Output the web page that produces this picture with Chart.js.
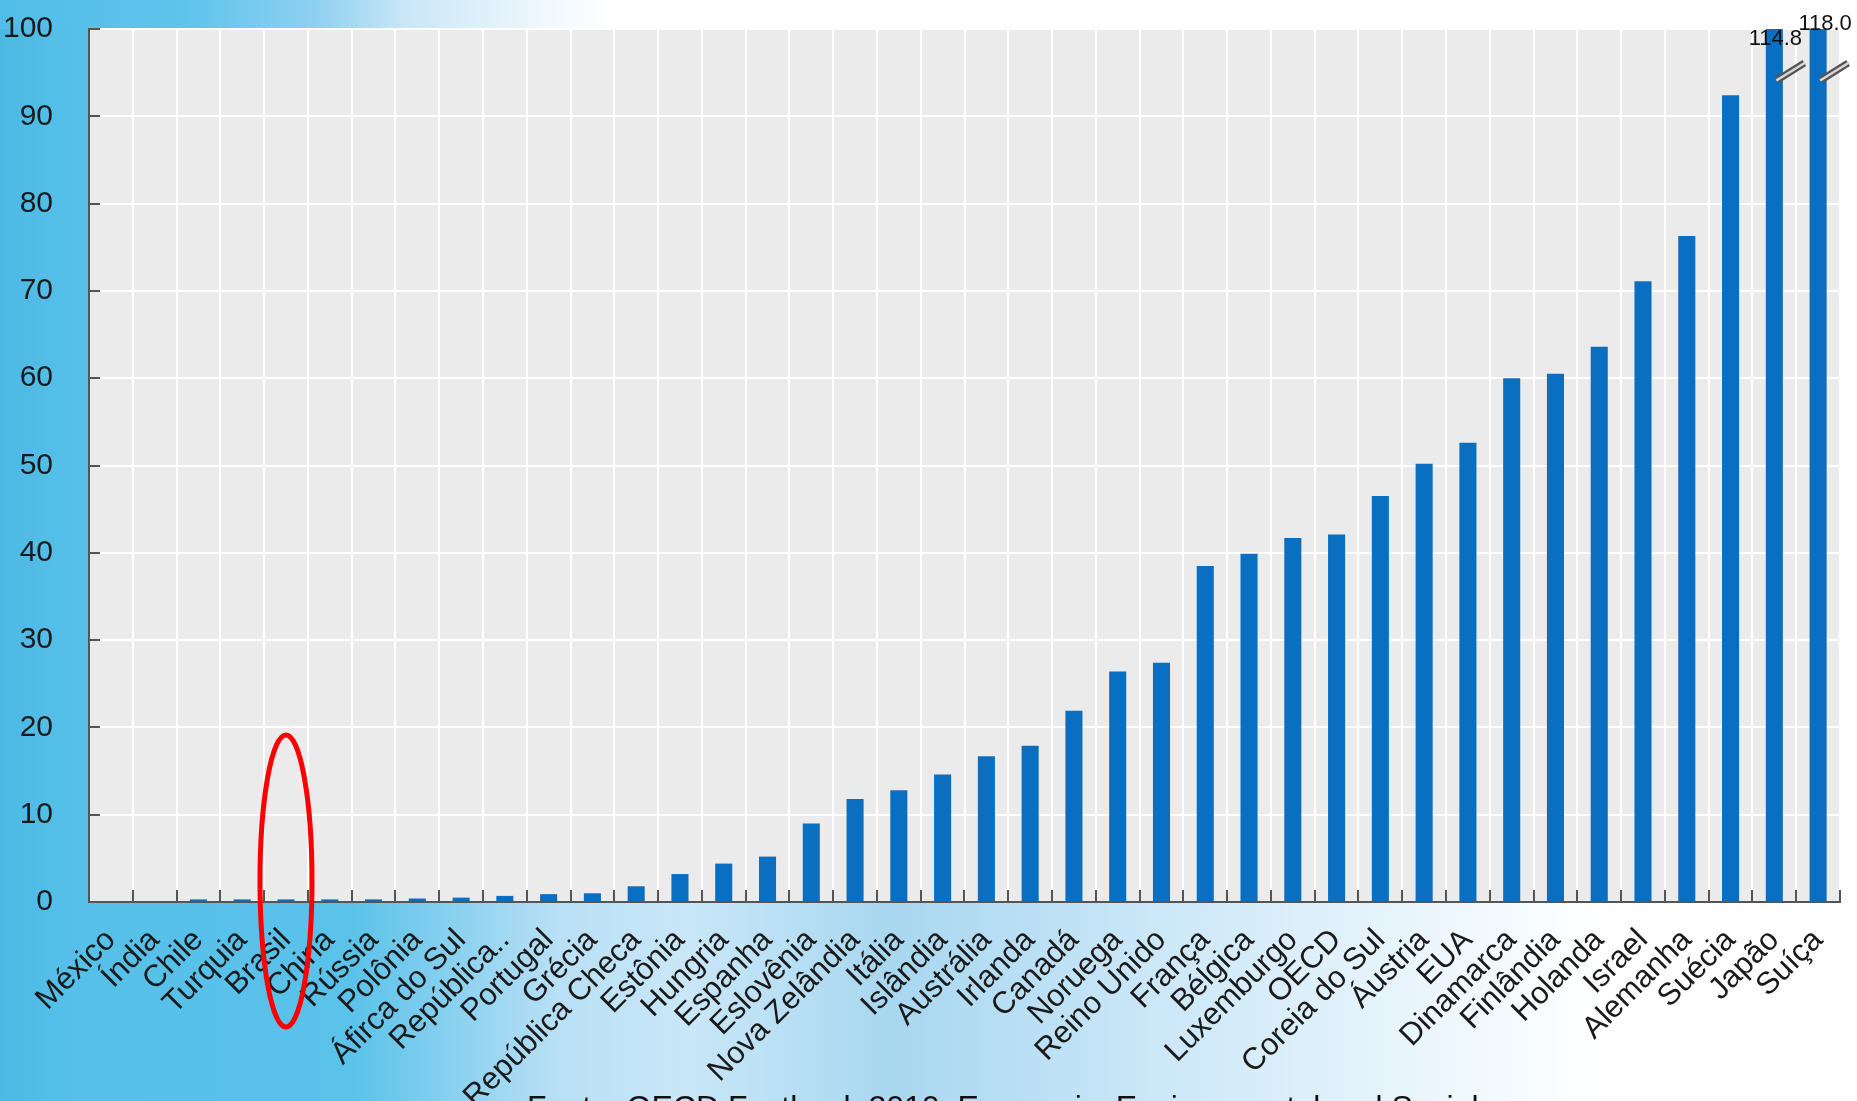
<!DOCTYPE html>
<html><head><meta charset="utf-8">
<script src="https://cdn.jsdelivr.net/npm/chart.js@4.4.1/dist/chart.umd.min.js"></script>
<style>html,body{margin:0;padding:0;background:#fff;overflow:hidden}canvas{display:block}</style>
</head><body>
<canvas id="c" width="1857" height="1101" style="width:1857px;height:1101px"></canvas>
<script>
const categories = ['México','Índia','Chile','Turquia','Brasil','China','Rússia','Polônia','Áfirca do Sul','República..','Portugal','Grécia','República Checa','Estônia','Hungria','Espanha','Eslovênia','Nova Zelândia','Itália','Islândia','Austrália','Irlanda','Canadá','Noruega','Reino Unido','França','Bélgica','Luxemburgo','OECD','Coreia do Sul','Áustria','EUA','Dinamarca','Finlândia','Holanda','Israel','Alemanha','Suécia','Japão','Suíça'];
const values = [0,0,0.3,0.3,0.3,0.3,0.3,0.4,0.5,0.7,0.9,1.0,1.8,3.2,4.4,5.2,9.0,11.8,12.8,14.6,16.7,17.9,21.9,26.4,27.4,38.5,39.9,41.7,42.1,46.5,50.2,52.6,60.0,60.5,63.6,71.1,76.3,92.4,114.8,118.0];
const yTicks = [0,10,20,30,40,50,60,70,80,90,100];
const highlighted = 'Brasil';
const footer = 'Fonte: OECD Factbook 2010: Economic, Environmental and Social';

const SANS = "'Liberation Sans',Arial,sans-serif";

const bgPlugin = {
  id: 'bg',
  beforeDraw(chart) {
    const {ctx, width, height, chartArea: a} = chart;
    ctx.save();
    const g = ctx.createLinearGradient(0, 0, width, 0);
    g.addColorStop(0, '#4cb9e4');
    g.addColorStop(0.04, '#56c0e9');
    g.addColorStop(0.19, '#5bc2ea');
    g.addColorStop(0.30, '#b9e0f5');
    g.addColorStop(0.37, '#c9e7f8');
    g.addColorStop(0.48, '#a8d7f0');
    g.addColorStop(0.62, '#cbe7f8');
    g.addColorStop(0.76, '#e9f5fc');
    g.addColorStop(0.86, '#ffffff');
    g.addColorStop(1, '#ffffff');
    ctx.fillStyle = g;
    ctx.fillRect(0, 0, width, height);
    const g2 = ctx.createLinearGradient(0, 0, width, 0);
    g2.addColorStop(0, '#52bde8');
    g2.addColorStop(0.10, '#5ec4ec');
    g2.addColorStop(0.17, '#8fd0f0');
    g2.addColorStop(0.22, '#cbe7f7');
    g2.addColorStop(0.29, '#eef7fc');
    g2.addColorStop(0.33, '#ffffff');
    g2.addColorStop(1, '#ffffff');
    ctx.fillStyle = g2;
    ctx.fillRect(0, 0, width, a.top);
    ctx.fillStyle = '#ebebeb';
    ctx.fillRect(a.left, a.top, a.right - a.left, a.bottom - a.top);
    ctx.restore();
  }
};

const overPlugin = {
  id: 'over',
  afterDatasetsDraw(chart) {
    const {ctx, chartArea: a} = chart;
    const ys = chart.scales.y;
    const meta = chart.getDatasetMeta(0);
    const dxs = [1, 7], dys = [16, 1];
    let k = 0;
    ctx.save();
    values.forEach((v, i) => {
      if (v <= ys.max) return;
      const bar = meta.data[i];
      ctx.lineCap = 'butt';
      ctx.strokeStyle = '#555555';
      ctx.lineWidth = 7;
      ctx.beginPath();
      ctx.moveTo(bar.x + 3, a.top + 51);
      ctx.lineTo(bar.x + 30, a.top + 34);
      ctx.stroke();
      ctx.strokeStyle = '#d8d8d8';
      ctx.lineWidth = 2.5;
      ctx.beginPath();
      ctx.moveTo(bar.x + 2, a.top + 51.5);
      ctx.lineTo(bar.x + 31, a.top + 33.5);
      ctx.stroke();
      ctx.fillStyle = '#111';
      ctx.font = '22px ' + SANS;
      ctx.textAlign = 'center';
      ctx.textBaseline = 'alphabetic';
      ctx.fillText(v.toFixed(1), bar.x + dxs[k], a.top + dys[k]);
      k++;
    });
    ctx.restore();
  },
  afterDraw(chart) {
    const {ctx, chartArea: a} = chart;
    const xs = chart.scales.x, ys = chart.scales.y;
    ctx.save();
    ctx.strokeStyle = '#555';
    ctx.lineWidth = 2;
    yTicks.forEach(t => {
      const py = Math.round(ys.getPixelForValue(t));
      ctx.beginPath(); ctx.moveTo(a.left, py); ctx.lineTo(a.left + 11, py); ctx.stroke();
    });
    const half = (xs.getPixelForValue(1) - xs.getPixelForValue(0)) / 2;
    for (let i = 0; i <= categories.length; i++) {
      const px = Math.round(i < categories.length ? xs.getPixelForValue(i) - half : xs.getPixelForValue(i - 1) + half);
      ctx.beginPath(); ctx.moveTo(px, a.bottom); ctx.lineTo(px, a.bottom - 12); ctx.stroke();
    }
    const hx = xs.getPixelForValue(categories.indexOf(highlighted));
    ctx.strokeStyle = '#ff0000';
    ctx.lineWidth = 5;
    ctx.beginPath();
    ctx.ellipse(hx, 881, 26, 146, 0, 0, Math.PI * 2);
    ctx.stroke();
    ctx.fillStyle = '#111';
    ctx.font = '32px ' + SANS;
    ctx.textAlign = 'left';
    ctx.textBaseline = 'alphabetic';
    ctx.fillText(footer, 527, 1118);
    ctx.restore();
  }
};

new Chart(document.getElementById('c'), {
  type: 'bar',
  data: {
    labels: categories,
    datasets: [{
      data: values,
      backgroundColor: '#0b6fc1',
      borderWidth: 0,
      barPercentage: 0.39,
      categoryPercentage: 1.0
    }]
  },
  options: {
    responsive: false,
    devicePixelRatio: 1,
    animation: false,
    layout: {padding: {top: 29, right: 17, left: 0, bottom: 0}},
    plugins: {legend: {display: false}, tooltip: {enabled: false}},
    scales: {
      x: {
        grid: {offset: true, color: '#ffffff', lineWidth: 2, drawTicks: false},
        border: {display: true, color: '#555', width: 2},
        ticks: {minRotation: 45, maxRotation: 45, autoSkip: false, padding: 20, color: '#1a1a1a', font: {family: SANS, size: 31}},
        afterFit(s) { s.height = 199; s.paddingLeft = 0; s.paddingRight = 0; }
      },
      y: {
        min: 0, max: 100,
        grid: {color: '#ffffff', lineWidth: 2, drawTicks: false},
        border: {display: true, color: '#555', width: 2},
        ticks: {stepSize: 10, padding: 36, color: '#1a1a1a', font: {family: SANS, size: 30}, callback: (v) => yTicks.includes(v) ? String(v) : ''},
        afterFit(s) { s.width = 89; s.paddingTop = 0; s.paddingBottom = 0; }
      }
    }
  },
  plugins: [bgPlugin, overPlugin]
});
</script>
</body></html>
